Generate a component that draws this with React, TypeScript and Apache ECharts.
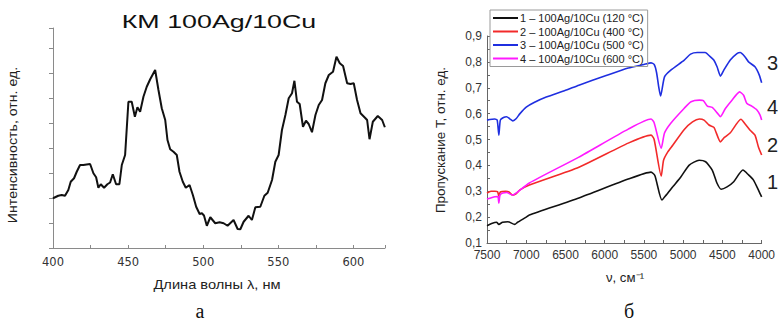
import React, { useEffect, useRef } from "react";
import * as echarts from "echarts";

// ---- Left panel (а): КМ spectrum ----
const leftWavelength = [
  400, 403.5, 405.8, 408, 410.2, 411.8, 414, 415.8, 418, 420.2, 422.4, 424.7, 426.9, 428.7, 430.2,
  431.8, 434, 436.2, 438, 439.8, 442, 444.2, 445.8, 448, 450.2, 452.4, 454.5, 456.2, 458, 460.2,
  462.4, 464.7, 468, 470.2, 472.4, 474.7, 476.2, 478, 480.2, 482.4, 484.2, 486.4, 488.4, 490.9,
  493.1, 495.3, 497.6, 499.1, 500.5, 502.4, 504.7, 508, 510.9, 513.6, 516.2, 520.2, 522.9, 524.7,
  526.9, 530.2, 532.4, 534.7, 538, 540.7, 542.9, 545.8, 548, 550.2, 552.4, 554.7, 556.9, 559.1,
  560.7, 562.4, 564.2, 566.4, 568.4, 570.2, 572.4, 574.7, 576.9, 579.1, 581.3, 583.6, 586.4,
  588.7, 590.9, 593.1, 595.8, 598, 600.2, 602.4, 604.7, 608, 609.1, 610.7, 612.9, 616.2, 619.1, 620.9,
];
const leftIntensity = [
  2.19, 2.29, 2.32, 2.29, 2.52, 2.85, 2.99, 3.25, 3.52, 3.52, 3.54, 3.56, 3.19, 3.03, 2.61,
  2.75, 2.61, 2.75, 2.82, 3.15, 2.75, 2.75, 3.52, 3.92, 6.05, 6.05, 5.45, 5.83, 5.65, 6.25,
  6.65, 6.95, 7.32, 6.52, 5.79, 5.32, 4.52, 4.15, 4.05, 3.92, 3.25, 2.85, 2.61, 2.72,
  2.32, 1.85, 1.56, 1.59, 1.5, 1.09, 1.43, 1.19, 1.23, 1.19, 1.09, 1.32, 0.96, 0.95,
  1.25, 1.49, 1.32, 1.83, 1.85, 2.29, 2.41, 2.92, 3.65, 3.92, 4.92, 5.52, 6.19, 6.39,
  6.89, 6.05, 5.96, 5.05, 5.29, 5.16, 4.83, 5.52, 5.92, 6.12, 6.79, 7.12, 7.25,
  7.85, 7.59, 7.48, 6.79, 6.76, 6.79, 6.12, 5.59, 5.39, 5.32, 4.55, 5.25, 5.48, 5.32, 5.03,
];

// ---- Right panel (б): transmission spectra ----
const seriesNames = [
  "1 – 100Ag/10Cu (120 °C)",
  "2 – 100Ag/10Cu (400 °C)",
  "3 – 100Ag/10Cu (500 °C)",
  "4 – 100Ag/10Cu (600 °C)",
];
const seriesColors = ["#111111", "#f22a2a", "#1f2fe0", "#ff1aff"];
const curveTags = ["1", "2", "3", "4"];

const nu1 = [7500, 7441, 7378, 7349, 7302, 7232, 7147, 7110, 7000, 6960, 6329, 5700, 5410, 5360, 5271, 5217, 5133, 5028, 4923, 4797, 4714, 4630, 4567, 4516, 4441, 4356, 4239, 4167, 4104, 4042, 4000];
const t1 = [0.167, 0.175, 0.18, 0.172, 0.18, 0.182, 0.172, 0.18, 0.2, 0.208, 0.274, 0.347, 0.374, 0.36, 0.266, 0.285, 0.317, 0.356, 0.401, 0.42, 0.414, 0.382, 0.33, 0.308, 0.317, 0.337, 0.382, 0.363, 0.343, 0.305, 0.278];

const nu2 = [7500, 7450, 7400, 7365, 7349, 7330, 7260, 7220, 7173, 7130, 7080, 6960, 6329, 5700, 5410, 5370, 5280, 5250, 5196, 5133, 4986, 4881, 4793, 4734, 4671, 4608, 4525, 4475, 4399, 4264, 4210, 4147, 4085, 4042, 4000];
const t2 = [0.293, 0.3, 0.3, 0.298, 0.281, 0.297, 0.3, 0.297, 0.285, 0.29, 0.305, 0.324, 0.393, 0.486, 0.517, 0.5, 0.359, 0.42, 0.452, 0.478, 0.539, 0.568, 0.579, 0.575, 0.556, 0.547, 0.491, 0.508, 0.526, 0.578, 0.56, 0.536, 0.517, 0.472, 0.44];

const nu3 = [7500, 7400, 7370, 7349, 7330, 7290, 7250, 7210, 7170, 7130, 7080, 7000, 6900, 6745, 6500, 6329, 6000, 5700, 5500, 5410, 5370, 5340, 5310, 5288, 5238, 5158, 4986, 4906, 4820, 4720, 4655, 4610, 4567, 4525, 4482, 4400, 4315, 4273, 4214, 4167, 4085, 4030, 4000];
const t3 = [0.575, 0.579, 0.575, 0.517, 0.575, 0.585, 0.588, 0.58, 0.572, 0.58, 0.6, 0.625, 0.643, 0.664, 0.69, 0.71, 0.745, 0.776, 0.79, 0.796, 0.79, 0.76, 0.7, 0.668, 0.742, 0.768, 0.807, 0.83, 0.836, 0.836, 0.82, 0.807, 0.78, 0.745, 0.768, 0.807, 0.832, 0.836, 0.82, 0.8, 0.781, 0.749, 0.719];

const nu4 = [7500, 7400, 7362, 7349, 7335, 7300, 7250, 7173, 7120, 6960, 6329, 5700, 5410, 5370, 5280, 5238, 5158, 4986, 4900, 4793, 4743, 4692, 4630, 4567, 4525, 4462, 4378, 4281, 4230, 4190, 4126, 4060, 4020, 4000];
const t4 = [0.27, 0.279, 0.28, 0.254, 0.285, 0.293, 0.295, 0.285, 0.295, 0.332, 0.432, 0.54, 0.579, 0.565, 0.466, 0.525, 0.563, 0.621, 0.646, 0.652, 0.65, 0.629, 0.624, 0.603, 0.588, 0.62, 0.652, 0.684, 0.671, 0.64, 0.629, 0.614, 0.594, 0.575];

const rightNu = [nu1, nu2, nu3, nu4];
const rightT = [t1, t2, t3, t4];

const leftTitle = "КМ 100Ag/10Cu";
const leftXName = "Длина волны λ, нм";
const leftYName = "Интенсивность, отн. ед.";
const rightXName = "ν, см⁻¹";
const rightYName = "Пропускание Т, отн. ед.";

export default function App() {
  const ref = useRef<HTMLDivElement>(null);

  useEffect(() => {
    if (!ref.current) return;
    const chart = echarts.init(ref.current, undefined, { renderer: "svg" });
    const sans = "Liberation Sans, Arial, sans-serif";
    const zip = (a: number[], b: number[]) => a.map((v, i) => [v, b[i]]);

    const tagY = [182, 145, 63, 107];

    chart.setOption({
      animation: false,
      backgroundColor: "#ffffff",
      grid: [
        { left: 53, top: 28, width: 332, height: 220 },
        { left: 487, top: 36, width: 278, height: 207 },
      ],
      xAxis: [
        {
          gridIndex: 0,
          type: "value",
          min: 400,
          max: 621,
          interval: 50,
          axisLine: { lineStyle: { color: "#8a8a8a", width: 1 } },
          axisTick: { inside: true, length: 3, lineStyle: { color: "#8a8a8a" } },
          minorTick: { show: true, splitNumber: 2, length: 3, lineStyle: { color: "#8a8a8a" } },
          splitLine: { show: false },
          axisLabel: {
            showMaxLabel: false,
            margin: 8,
            fontSize: 11.5,
            fontFamily: "DejaVu Sans",
            color: "#333",
            formatter: (v: number) => String(Math.round(v)),
          },
        },
        {
          gridIndex: 1,
          type: "value",
          min: 4000,
          max: 7500,
          interval: 500,
          inverse: true,
          axisLine: { lineStyle: { color: "#666", width: 1 } },
          axisTick: { inside: true, length: 3, lineStyle: { color: "#666" } },
          minorTick: { show: true, splitNumber: 2, length: 3, lineStyle: { color: "#666" } },
          splitLine: { show: false },
          axisLabel: {
            margin: 6,
            fontSize: 12,
            fontFamily: sans,
            color: "#333",
            formatter: (v: number) => String(Math.round(v)),
          },
        },
      ],
      yAxis: [
        {
          gridIndex: 0,
          type: "value",
          min: 0.2,
          max: 9,
          interval: 1,
          axisLine: { show: true, lineStyle: { color: "#8a8a8a", width: 1 } },
          axisTick: { show: true, inside: false, length: 4, lineStyle: { color: "#8a8a8a" } },
          splitLine: { show: false },
          axisLabel: { show: false },
        },
        {
          gridIndex: 1,
          type: "value",
          min: 0.1,
          max: 0.9,
          interval: 0.1,
          axisLine: { show: true, lineStyle: { color: "#666", width: 1 } },
          axisTick: { show: true, inside: true, length: 3, lineStyle: { color: "#666" } },
          minorTick: { show: true, splitNumber: 2, length: 3, lineStyle: { color: "#666" } },
          splitLine: { show: false },
          axisLabel: {
            margin: 5,
            fontSize: 12,
            fontFamily: sans,
            color: "#333",
            formatter: (v: number) => v.toFixed(1).replace(".", ","),
          },
        },
      ],
      legend: {
        orient: "vertical",
        left: 490,
        top: 10,
        data: seriesNames,
        icon: "rect",
        itemWidth: 25,
        itemHeight: 2,
        itemGap: 1.5,
        borderColor: "#9a9a9a",
        borderWidth: 1,
        padding: [2, 4, 2, 3],
        textStyle: { fontSize: 11, lineHeight: 12, fontFamily: sans, color: "#222", padding: [0, 0, 0, -3] },
      },
      series: [
        {
          type: "line",
          xAxisIndex: 0,
          yAxisIndex: 0,
          data: zip(leftWavelength, leftIntensity),
          symbol: "none",
          lineStyle: { color: "#111", width: 2 },
        },
        ...seriesNames.map((name, i) => ({
          name,
          type: "line",
          xAxisIndex: 1,
          yAxisIndex: 1,
          data: zip(rightNu[i], rightT[i]),
          symbol: "none",
          smooth: 0.2,
          color: seriesColors[i],
          lineStyle: { color: seriesColors[i], width: 1.6 },
        })),
      ],
      graphic: [
        {
          type: "text",
          x: 219,
          y: 22,
          scaleX: 1.45,
          style: { text: leftTitle, fontSize: 18.5, fontFamily: sans, fill: "#111", align: "center", verticalAlign: "middle" },
        },
        {
          type: "text",
          x: 217,
          y: 285,
          scaleX: 1.22,
          style: { text: leftXName, fontSize: 12, fontFamily: sans, fill: "#222", align: "center", verticalAlign: "middle" },
        },
        {
          type: "text",
          x: 13,
          y: 145,
          rotation: Math.PI / 2,
          scaleX: 1.18,
          style: { text: leftYName, fontSize: 12, fontFamily: sans, fill: "#222", align: "center", verticalAlign: "middle" },
        },
        {
          type: "text",
          x: 441,
          y: 140,
          rotation: Math.PI / 2,
          scaleX: 1.12,
          style: { text: rightYName, fontSize: 12, fontFamily: sans, fill: "#222", align: "center", verticalAlign: "middle" },
        },
        {
          type: "text",
          x: 625,
          y: 278,
          scaleX: 1.1,
          style: { text: rightXName, fontSize: 12, fontFamily: sans, fill: "#222", align: "center", verticalAlign: "middle" },
        },
        {
          type: "text",
          x: 200,
          y: 311,
          style: { text: "а", fontSize: 20, fontFamily: "Liberation Serif, serif", fill: "#111", align: "center", verticalAlign: "middle" },
        },
        {
          type: "text",
          x: 629,
          y: 311,
          style: { text: "б", fontSize: 20, fontFamily: "Liberation Serif, serif", fill: "#111", align: "center", verticalAlign: "middle" },
        },
        ...curveTags.map((t, i) => ({
          type: "text",
          x: 767,
          y: tagY[i],
          style: { text: t, fontSize: 20, fontFamily: sans, fill: "#222", align: "left", verticalAlign: "middle" },
        })),
      ],
    });

    return () => chart.dispose();
  }, []);

  return (
    <div
      ref={ref}
      style={{ position: "fixed", left: 0, top: 0, width: 778, height: 321, background: "#fff" }}
    />
  );
}
